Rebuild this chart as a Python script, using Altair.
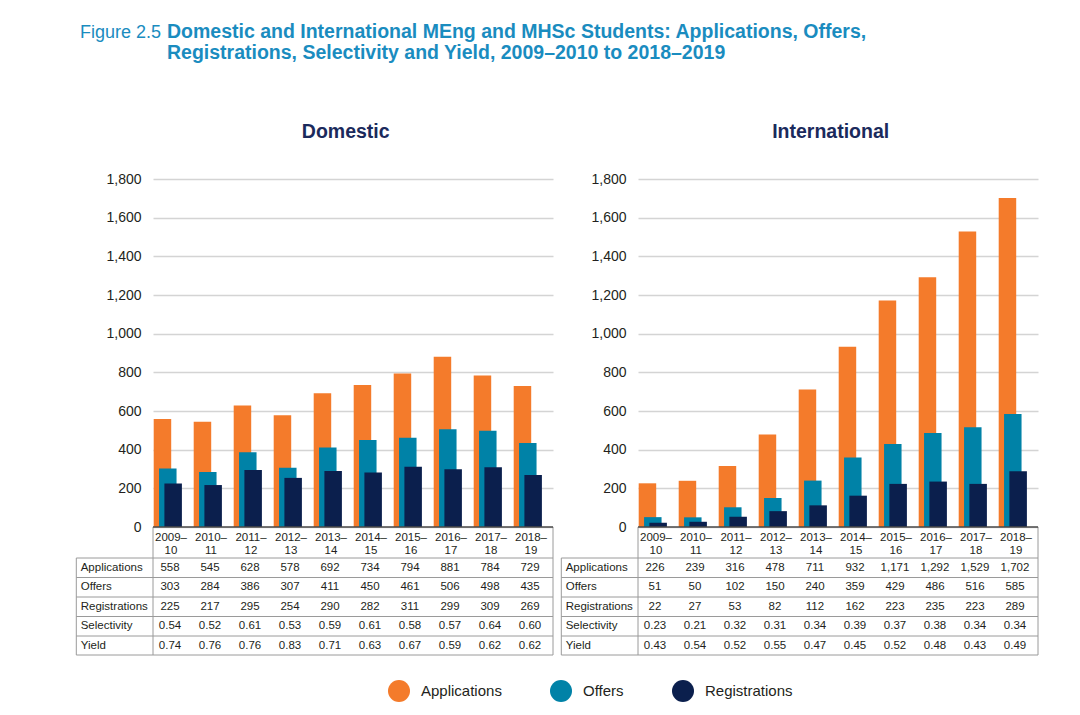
import altair as alt
import pandas as pd

# ---------------- data ----------------
YEARS = ["2009–\n10", "2010–\n11", "2011–\n12", "2012–\n13", "2013–\n14",
         "2014–\n15", "2015–\n16", "2016–\n17", "2017–\n18", "2018–\n19"]
SERIES = ["Applications", "Offers", "Registrations"]
COLORS = ["#f47b2b", "#0082a7", "#0b1f4d"]
ROWS = ["Applications", "Offers", "Registrations", "Selectivity", "Yield"]

DOM_APPS = [558, 545, 628, 578, 692, 734, 794, 881, 784, 729]
DOM_OFFERS = [303, 284, 386, 307, 411, 450, 461, 506, 498, 435]
DOM_REGS = [225, 217, 295, 254, 290, 282, 311, 299, 309, 269]
DOM_SEL = [0.54, 0.52, 0.61, 0.53, 0.59, 0.61, 0.58, 0.57, 0.64, 0.60]
DOM_YIELD = [0.74, 0.76, 0.76, 0.83, 0.71, 0.63, 0.67, 0.59, 0.62, 0.62]

INT_APPS = [226, 239, 316, 478, 711, 932, 1171, 1292, 1529, 1702]
INT_OFFERS = [51, 50, 102, 150, 240, 359, 429, 486, 516, 585]
INT_REGS = [22, 27, 53, 82, 112, 162, 223, 235, 223, 289]
INT_SEL = [0.23, 0.21, 0.32, 0.31, 0.34, 0.39, 0.37, 0.38, 0.34, 0.34]
INT_YIELD = [0.43, 0.54, 0.52, 0.55, 0.47, 0.45, 0.52, 0.48, 0.43, 0.49]

Y_TICKS = [0, 200, 400, 600, 800, 1000, 1200, 1400, 1600, 1800]

FIG_LABEL = "Figure 2.5"
TITLE_LINES = ["Domestic and International MEng and MHSc Students: Applications, Offers,",
               "Registrations, Selectivity and Yield, 2009–2010 to 2018–2019"]
PANEL_TITLES = ["Domestic", "International"]

# ---------------- style ----------------
W, H = 400, 348
FONT = "Liberation Sans"
TXT = "#231f20"
TEAL = "#1a8cbf"
NAVY_T = "#1b2a5c"
GRID = "#d4d4d4"
LINE = "#9a9a9a"
BAND = 40.0
BAR_START = 0.7 / BAND
BAR_STEP = 5.35 / BAND
BAR_W = 17.5 / BAND
VAL_CENTER = 17.0 / BAND
HDR_CENTER = 18.0 / BAND
TABLE_LEFT = -76.7
ROW_LINES = [379, 398.5, 418, 437.5, 457, 476]

xs = alt.Scale(domain=[0, 10], nice=False, zero=False)
ys = alt.Scale(domain=[0, 1800], nice=False)

legend = alt.Legend(orient="none", legendX=235, legendY=501, direction="horizontal",
                    title=None, symbolType="circle", symbolSize=484, labelFontSize=15,
                    labelFont=FONT, labelColor=TXT, labelOffset=11, columnPadding=48,
                    symbolStrokeWidth=0, padding=0, symbolOpacity=1)


def fmt_int(v):
    return f"{v:,}"


def fmt_ratio(v):
    return f"{v:.2f}"


def one_row():
    return pd.DataFrame({"k": [0]})


def panel(title, apps, offers, regs, sel, yld, extra=None):
    recs = []
    for k, (s, vals) in enumerate(zip(SERIES, [apps, offers, regs])):
        for i, v in enumerate(vals):
            x0 = i + BAR_START + k * BAR_STEP
            recs.append({"series": s, "idx": i, "value": v, "x0": x0, "x1": x0 + BAR_W})
    bars_df = pd.DataFrame(recs)

    bars = alt.Chart(bars_df).mark_bar().encode(
        x=alt.X("x0:Q", scale=xs, axis=None),
        x2="x1:Q",
        y=alt.Y("value:Q", scale=ys, stack=None,
                axis=alt.Axis(values=Y_TICKS, format=",d", grid=True, gridColor=GRID,
                              gridWidth=1.5, domain=False, ticks=False, labelFontSize=14,
                              labelPadding=12, labelColor=TXT, labelFont=FONT, title=None)),
        y2=alt.datum(0),
        color=alt.Color("series:N", scale=alt.Scale(domain=SERIES, range=COLORS), legend=legend),
    )

    layers = [bars]

    # table lines
    def rule(x1, x2, y1, y2, color=LINE, w=1.0):
        enc = dict(x=alt.value(x1), y=alt.value(y1))
        if x2 is not None:
            enc["x2"] = alt.value(x2)
        if y2 is not None:
            enc["y2"] = alt.value(y2)
        return alt.Chart(one_row()).mark_rule(color=color, strokeWidth=w).encode(**enc)

    for yv in ROW_LINES:
        layers.append(rule(TABLE_LEFT, W, yv, None))
    layers.append(rule(TABLE_LEFT, None, ROW_LINES[0], ROW_LINES[-1]))
    layers.append(rule(0, None, H, ROW_LINES[-1]))
    layers.append(rule(W, None, H, ROW_LINES[-1]))
    layers.append(rule(0, W, H, None, color="#4a4a4a", w=1.3))

    # column headers
    hdr = pd.DataFrame({"idx": list(range(10)), "label": YEARS})
    hdr["xc"] = hdr["idx"] + HDR_CENTER
    layers.append(alt.Chart(hdr).mark_text(font=FONT, fontSize=11.5, color=TXT, baseline="top",
                                           align="center", lineBreak="\n", lineHeight=12.5).encode(
        x=alt.X("xc:Q", scale=xs, axis=None), y=alt.value(353), text="label:N"))

    # table rows
    row_vals = [
        [fmt_int(v) for v in apps],
        [fmt_int(v) for v in offers],
        [fmt_int(v) for v in regs],
        [fmt_ratio(v) for v in sel],
        [fmt_ratio(v) for v in yld],
    ]
    for r, (rname, vals) in enumerate(zip(ROWS, row_vals)):
        yc = (ROW_LINES[r] + ROW_LINES[r + 1]) / 2
        tdf = pd.DataFrame({"idx": list(range(10)), "label": vals})
        tdf["xc"] = tdf["idx"] + VAL_CENTER
        layers.append(alt.Chart(tdf).mark_text(font=FONT, fontSize=11.5, color=TXT,
                                               baseline="middle", align="center").encode(
            x=alt.X("xc:Q", scale=xs, axis=None), y=alt.value(yc), text="label:N"))
        layers.append(alt.Chart(pd.DataFrame({"label": [rname]})).mark_text(
            font=FONT, fontSize=11.5, color=TXT, baseline="middle", align="left").encode(
            x=alt.value(TABLE_LEFT + 4.4), y=alt.value(yc), text="label:N"))

    # panel title
    layers.append(alt.Chart(pd.DataFrame({"label": [title]})).mark_text(
        font=FONT, fontSize=19.5, fontWeight="bold", color=NAVY_T, baseline="alphabetic",
        align="center").encode(x=alt.value(192.7), y=alt.value(-41.3), text="label:N"))

    if extra:
        layers.extend(extra)

    return alt.layer(*layers).properties(width=W, height=H)


title_layers = [
    alt.Chart(pd.DataFrame({"label": [FIG_LABEL]})).mark_text(
        font=FONT, fontSize=18, color=TEAL, baseline="alphabetic", align="left").encode(
        x=alt.value(-73), y=alt.value(-141), text="label:N"),
    alt.Chart(pd.DataFrame({"label": [TITLE_LINES[0]]})).mark_text(
        font=FONT, fontSize=19.5, fontWeight="bold", color=TEAL, baseline="alphabetic",
        align="left").encode(x=alt.value(14), y=alt.value(-141), text="label:N"),
    alt.Chart(pd.DataFrame({"label": [TITLE_LINES[1]]})).mark_text(
        font=FONT, fontSize=19.5, fontWeight="bold", color=TEAL, baseline="alphabetic",
        align="left").encode(x=alt.value(14), y=alt.value(-120.3), text="label:N"),
]

p1 = panel(PANEL_TITLES[0], DOM_APPS, DOM_OFFERS, DOM_REGS, DOM_SEL, DOM_YIELD, title_layers)
p2 = panel(PANEL_TITLES[1], INT_APPS, INT_OFFERS, INT_REGS, INT_SEL, INT_YIELD)

chart = alt.hconcat(p1, p2, spacing=85, bounds="flush").resolve_scale(
    color="shared"
).properties(
    padding={"left": 67, "top": 13, "right": 5, "bottom": 5}
).configure_view(stroke="transparent")

chart.save("out.html", embed_options={"renderer": "svg", "actions": False})
